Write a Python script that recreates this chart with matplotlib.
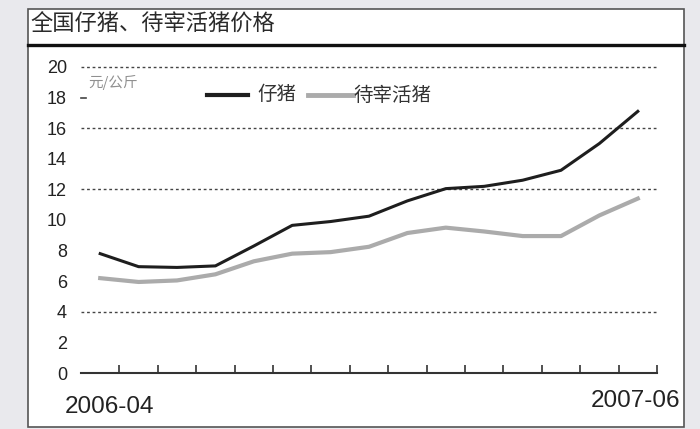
import matplotlib
matplotlib.use("Agg")
import matplotlib.pyplot as plt
from matplotlib.patches import Rectangle
from matplotlib.lines import Line2D

# monthly prices, yuan per kg
months = ["2006-04", "2006-05", "2006-06", "2006-07", "2006-08", "2006-09",
          "2006-10", "2006-11", "2006-12", "2007-01", "2007-02", "2007-03",
          "2007-04", "2007-05", "2007-06"]
piglet = [7.8, 6.95, 6.9, 7.0, 8.3, 9.65, 9.9, 10.25, 11.25, 12.05, 12.2,
          12.6, 13.25, 15.0, 17.1]
live_hog = [6.2, 5.95, 6.05, 6.45, 7.3, 7.8, 7.9, 8.25, 9.15, 9.5, 9.25,
            8.95, 8.95, 10.3, 11.4]
series_names = ["仔猪", "待宰活猪"]
y_ticks = [0, 2, 4, 6, 8, 10, 12, 14, 16, 18, 20]
grid_levels = [4, 12, 16, 20]

CJK = ["Noto Sans CJK SC", "DejaVu Sans"]
NARROW = ["Liberation Sans Narrow", "Liberation Sans", "DejaVu Sans"]

W, H = 700, 429
fig = plt.figure(figsize=(W / 100, H / 100), dpi=100, facecolor="#e9e9ed")

# white panel with border and title bar rule
fig.patches.append(Rectangle((28 / W, 1 - 427 / H), (684 - 28) / W, (427 - 9) / H,
                             transform=fig.transFigure, facecolor="white",
                             edgecolor="#555555", linewidth=1.2, zorder=-5))
fig.lines.append(Line2D([28 / W, 684 / W], [1 - 45 / H, 1 - 45 / H],
                        transform=fig.transFigure, color="#111111", linewidth=2.4,
                        zorder=-4))
fig.text(30 / W, 1 - 24 / H, "全国仔猪、待宰活猪价格", family=CJK, fontsize=16,
         color="#2a2a2a", va="center", ha="left")

ax = fig.add_axes([81 / W, 1 - 373 / H, (657 - 81) / W, 306 / H])
ax.set_facecolor("none")
x = list(range(len(months)))

for lvl in grid_levels:
    ax.axhline(lvl, color="#444444", linewidth=1.0, linestyle=(0, (2, 2)),
               clip_on=False, zorder=1)
ax.plot([-0.5, -0.36], [18, 18], color="#444444", linewidth=1.2, clip_on=False)

ax.plot(x, live_hog, color="#ababab", linewidth=3.0, solid_joinstyle="round",
        zorder=3)
ax.plot(x, piglet, color="#1e1e1e", linewidth=2.2, solid_joinstyle="round",
        zorder=4)

ax.set_xlim(-0.5, len(months) - 0.5)
ax.set_ylim(0, 20)
for s in ["top", "right", "left"]:
    ax.spines[s].set_visible(False)
ax.spines["bottom"].set_color("#333333")
ax.spines["bottom"].set_linewidth(1.5)

ax.set_xticks([i + 0.5 for i in range(len(months))])
ax.set_xticklabels([])
ax.tick_params(axis="x", direction="in", length=6, width=1.2, color="#333333")
ax.set_yticks(y_ticks)
ax.set_yticklabels([str(v) for v in y_ticks], family=NARROW, fontsize=13,
                   color="#222222")
ax.tick_params(axis="y", length=0, pad=10)

# first and last month under the axis
ax.text(-0.5 - 16 / 38.4, -2.2, months[0], family=NARROW, fontsize=17.5,
        color="#222222", ha="left", va="center")
ax.text(len(months) - 0.5 + 23 / 38.4, -1.85, months[-1], family=NARROW,
        fontsize=17.5, color="#222222", ha="right", va="center")

# unit and legend
ax.text(-0.5 + 7 / 38.4, 19.0, "元/公斤", family=CJK, fontsize=10.5,
        color="#909090", style="italic", ha="left", va="center")
ax.plot([2.79, 3.85], [18.17, 18.17], color="#1e1e1e", linewidth=3.0)
ax.text(4.1, 18.17, series_names[0], family=CJK, fontsize=14, color="#333333",
        va="center", ha="left")
ax.plot([5.42, 6.59], [18.17, 18.17], color="#ababab", linewidth=3.5)
ax.text(6.6, 18.17, series_names[1], family=CJK, fontsize=14, color="#333333",
        va="center", ha="left")

fig.savefig("out.png", dpi=100, facecolor=fig.get_facecolor())
